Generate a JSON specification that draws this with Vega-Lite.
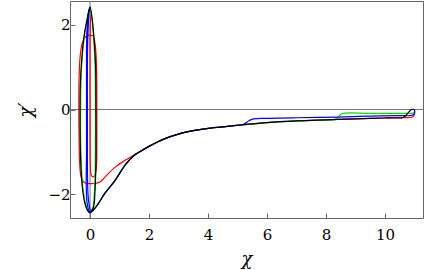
{
 "$schema": "https://vega.github.io/schema/vega-lite/v6.json",
 "width": 353, "height": 217,
 "autosize": "none",
 "padding": {"left": 70, "top": 1, "right": 13, "bottom": 52},
 "background": "white",
 "config": {
  "view": {"stroke": "#666", "strokeWidth": 1},
  "font": "DejaVu Serif",
  "axis": {"grid": false, "domain": false, "labelFont": "DejaVu Serif", "labelFontSize": 15, "labelColor": "black", "titleFont": "DejaVu Serif", "titleFontSize": 18, "titleFontWeight": "normal", "titleFontStyle": "italic", "titleColor": "black", "tickColor": "#666", "tickSize": -5, "tickWidth": 1}
 },
 "datasets": {
  "curves": [
   {"s":"red","i":0,"x":11.0,"y":0},{"s":"red","i":1,"x":11.0,"y":-0.12},{"s":"red","i":2,"x":10.95,"y":-0.17},{"s":"red","i":3,"x":10.8,"y":-0.19},
   {"s":"red","i":4,"x":10.6,"y":-0.19},{"s":"red","i":5,"x":10,"y":-0.2},{"s":"red","i":6,"x":9,"y":-0.22},{"s":"red","i":7,"x":8.4,"y":-0.235},{"s":"red","i":8,"x":8,"y":-0.245},{"s":"red","i":9,"x":7,"y":-0.27},{"s":"red","i":10,"x":6,"y":-0.31},{"s":"red","i":11,"x":5.2,"y":-0.36},{"s":"red","i":12,"x":4.5,"y":-0.41},{"s":"red","i":13,"x":3.95,"y":-0.45},{"s":"red","i":14,"x":3.5,"y":-0.5},{"s":"red","i":15,"x":3.05,"y":-0.57},{"s":"red","i":16,"x":2.5,"y":-0.7},{"s":"red","i":17,"x":2.0,"y":-0.87},{"s":"red","i":18,"x":1.7,"y":-0.99},{"s":"red","i":19,"x":1.5,"y":-1.07},
   {"s":"red","i":20,"x":1.19,"y":-1.2},{"s":"red","i":21,"x":0.85,"y":-1.36},{"s":"red","i":22,"x":0.51,"y":-1.59},{"s":"red","i":23,"x":0.34,"y":-1.71},{"s":"red","i":24,"x":0.2,"y":-1.74},{"s":"red","i":25,"x":0,"y":-1.75},{"s":"red","i":26,"x":-0.2,"y":-1.72},{"s":"red","i":27,"x":-0.3,"y":-1.6},{"s":"red","i":28,"x":-0.35,"y":-1.3},{"s":"red","i":29,"x":-0.37,"y":-0.8},{"s":"red","i":30,"x":-0.38,"y":0},{"s":"red","i":31,"x":-0.37,"y":0.8},{"s":"red","i":32,"x":-0.33,"y":1.3},{"s":"red","i":33,"x":-0.25,"y":1.6},{"s":"red","i":34,"x":-0.12,"y":1.74},{"s":"red","i":35,"x":0,"y":1.75},{"s":"red","i":36,"x":0.1,"y":1.74},{"s":"red","i":37,"x":0.17,"y":1.55},{"s":"red","i":38,"x":0.21,"y":1.2},{"s":"red","i":39,"x":0.23,"y":0.6},{"s":"red","i":40,"x":0.23,"y":0},{"s":"red","i":41,"x":0.23,"y":-0.8},{"s":"red","i":42,"x":0.22,"y":-1.3},{"s":"red","i":43,"x":0.18,"y":-1.52},{"s":"red","i":44,"x":0.11,"y":-1.59},{"s":"red","i":45,"x":0.04,"y":-1.55},{"s":"red","i":46,"x":0.01,"y":-1.3},{"s":"red","i":47,"x":0.0,"y":0},{"s":"red","i":48,"x":0.0,"y":1.5},{"s":"red","i":49,"x":0.01,"y":2.0},{"s":"red","i":50,"x":0.03,"y":2.25},

   {"s":"green","i":0,"x":11.0,"y":0},{"s":"green","i":1,"x":11.0,"y":-0.05},{"s":"green","i":2,"x":10.95,"y":-0.085},{"s":"green","i":3,"x":10.7,"y":-0.09},{"s":"green","i":4,"x":9.5,"y":-0.09},{"s":"green","i":5,"x":8.55,"y":-0.095},{"s":"green","i":6,"x":8.45,"y":-0.15},{"s":"green","i":7,"x":8.3,"y":-0.235},{"s":"green","i":8,"x":8,"y":-0.245},{"s":"green","i":9,"x":7,"y":-0.27},{"s":"green","i":10,"x":6,"y":-0.31},{"s":"green","i":11,"x":5.2,"y":-0.36},{"s":"green","i":12,"x":4.5,"y":-0.41},{"s":"green","i":13,"x":3.95,"y":-0.45},{"s":"green","i":14,"x":3.5,"y":-0.5},{"s":"green","i":15,"x":3.05,"y":-0.57},{"s":"green","i":16,"x":2.5,"y":-0.7},{"s":"green","i":17,"x":2.0,"y":-0.87},{"s":"green","i":18,"x":1.7,"y":-0.99},{"s":"green","i":19,"x":1.5,"y":-1.08},{"s":"green","i":20,"x":1.2,"y":-1.3},{"s":"green","i":21,"x":0.85,"y":-1.67},{"s":"green","i":22,"x":0.5,"y":-1.98},{"s":"green","i":23,"x":0.28,"y":-2.22},{"s":"green","i":24,"x":0.12,"y":-2.37},{"s":"green","i":25,"x":0.03,"y":-2.42},
   {"s":"green","i":26,"x":0.1,"y":-2.3},{"s":"green","i":27,"x":0.16,"y":-1.8},{"s":"green","i":28,"x":0.18,"y":-1.0},{"s":"green","i":29,"x":0.18,"y":0},{"s":"green","i":30,"x":0.17,"y":1.0},{"s":"green","i":31,"x":0.12,"y":1.7},{"s":"green","i":32,"x":0.05,"y":2.2},{"s":"green","i":33,"x":-0.01,"y":2.38},{"s":"green","i":34,"x":-0.08,"y":2.2},{"s":"green","i":35,"x":-0.2,"y":1.7},{"s":"green","i":36,"x":-0.29,"y":1.0},{"s":"green","i":37,"x":-0.32,"y":0},{"s":"green","i":38,"x":-0.31,"y":-1.0},{"s":"green","i":39,"x":-0.25,"y":-1.8},{"s":"green","i":40,"x":-0.14,"y":-2.25},{"s":"green","i":41,"x":-0.03,"y":-2.42},{"s":"green","i":42,"x":0.02,"y":-2.4},

   {"s":"blue","i":0,"x":11.0,"y":0},{"s":"blue","i":1,"x":11.0,"y":-0.1},{"s":"blue","i":2,"x":10.9,"y":-0.14},{"s":"blue","i":3,"x":10.5,"y":-0.145},{"s":"blue","i":4,"x":9.5,"y":-0.155},{"s":"blue","i":5,"x":8.4,"y":-0.18},{"s":"blue","i":6,"x":7,"y":-0.195},{"s":"blue","i":7,"x":6,"y":-0.21},{"s":"blue","i":8,"x":5.55,"y":-0.22},{"s":"blue","i":9,"x":5.4,"y":-0.26},{"s":"blue","i":10,"x":5.2,"y":-0.35},{"s":"blue","i":11,"x":5.0,"y":-0.37},{"s":"blue","i":12,"x":4.5,"y":-0.41},{"s":"blue","i":13,"x":3.95,"y":-0.45},{"s":"blue","i":14,"x":3.5,"y":-0.5},{"s":"blue","i":15,"x":3.05,"y":-0.57},{"s":"blue","i":16,"x":2.5,"y":-0.7},{"s":"blue","i":17,"x":2.0,"y":-0.87},{"s":"blue","i":18,"x":1.7,"y":-0.99},{"s":"blue","i":19,"x":1.5,"y":-1.08},{"s":"blue","i":20,"x":1.2,"y":-1.3},{"s":"blue","i":21,"x":0.85,"y":-1.67},{"s":"blue","i":22,"x":0.5,"y":-1.98},{"s":"blue","i":23,"x":0.28,"y":-2.22},{"s":"blue","i":24,"x":0.12,"y":-2.37},{"s":"blue","i":25,"x":0.03,"y":-2.42},
   {"s":"blue","i":26,"x":-0.02,"y":-2.3},{"s":"blue","i":27,"x":-0.07,"y":-2.0},{"s":"blue","i":28,"x":-0.09,"y":-1.0},{"s":"blue","i":29,"x":-0.09,"y":0},{"s":"blue","i":30,"x":-0.09,"y":1.0},{"s":"blue","i":31,"x":-0.07,"y":1.8},{"s":"blue","i":32,"x":-0.03,"y":2.3},{"s":"blue","i":33,"x":0.0,"y":2.42},{"s":"blue","i":34,"x":-0.05,"y":2.3},{"s":"blue","i":35,"x":-0.11,"y":1.8},{"s":"blue","i":36,"x":-0.12,"y":1.0},{"s":"blue","i":37,"x":-0.12,"y":0},{"s":"blue","i":38,"x":-0.12,"y":-1.0},{"s":"blue","i":39,"x":-0.13,"y":-1.8},{"s":"blue","i":40,"x":-0.1,"y":-2.2},{"s":"blue","i":41,"x":-0.02,"y":-2.42},{"s":"blue","i":42,"x":0.03,"y":-2.44},

   {"s":"black","i":0,"x":11.0,"y":0},{"s":"black","i":1,"x":10.9,"y":0},{"s":"black","i":2,"x":10.68,"y":-0.16},{"s":"black","i":3,"x":10.6,"y":-0.19},{"s":"black","i":4,"x":10,"y":-0.2},{"s":"black","i":5,"x":9,"y":-0.22},{"s":"black","i":6,"x":8.4,"y":-0.235},{"s":"black","i":7,"x":8,"y":-0.245},{"s":"black","i":8,"x":7,"y":-0.27},{"s":"black","i":9,"x":6,"y":-0.31},{"s":"black","i":10,"x":5.2,"y":-0.36},{"s":"black","i":11,"x":4.5,"y":-0.41},{"s":"black","i":12,"x":3.95,"y":-0.45},{"s":"black","i":13,"x":3.5,"y":-0.5},{"s":"black","i":14,"x":3.05,"y":-0.57},{"s":"black","i":15,"x":2.5,"y":-0.7},{"s":"black","i":16,"x":2.0,"y":-0.87},{"s":"black","i":17,"x":1.7,"y":-0.99},{"s":"black","i":18,"x":1.5,"y":-1.08},{"s":"black","i":19,"x":1.2,"y":-1.3},{"s":"black","i":20,"x":0.85,"y":-1.67},{"s":"black","i":21,"x":0.5,"y":-1.98},{"s":"black","i":22,"x":0.28,"y":-2.22},{"s":"black","i":23,"x":0.12,"y":-2.37},{"s":"black","i":24,"x":0.03,"y":-2.42},
   {"s":"black","i":25,"x":0.12,"y":-2.3},{"s":"black","i":26,"x":0.17,"y":-1.9},{"s":"black","i":27,"x":0.2,"y":-1.2},{"s":"black","i":28,"x":0.2,"y":0},{"s":"black","i":29,"x":0.19,"y":1.0},{"s":"black","i":30,"x":0.14,"y":1.62},{"s":"black","i":31,"x":0.07,"y":2.15},{"s":"black","i":32,"x":0.0,"y":2.41},{"s":"black","i":33,"x":-0.08,"y":2.2},{"s":"black","i":34,"x":-0.2,"y":1.75},{"s":"black","i":35,"x":-0.28,"y":1.2},{"s":"black","i":36,"x":-0.33,"y":0.6},{"s":"black","i":37,"x":-0.34,"y":0},{"s":"black","i":38,"x":-0.33,"y":-0.9},{"s":"black","i":39,"x":-0.28,"y":-1.7},{"s":"black","i":40,"x":-0.18,"y":-2.2},{"s":"black","i":41,"x":-0.07,"y":-2.4},{"s":"black","i":42,"x":0.0,"y":-2.44}
  ]
 },
 "layer": [
  {"data": {"values": [{}]}, "mark": {"type": "rule", "color": "#777", "strokeWidth": 1}, "encoding": {"y": {"datum": 0, "type": "quantitative"}}},
  {"data": {"values": [{}]}, "mark": {"type": "rule", "color": "#777", "strokeWidth": 1}, "encoding": {"x": {"datum": 0, "type": "quantitative"}}},
  {"data": {"name": "curves"}, "transform": [{"filter": "datum.s === 'red'"}], "mark": {"type": "line", "color": "#ff0000", "strokeWidth": 1.2, "interpolate": "catmull-rom"}, "encoding": {"x": {"field": "x", "type": "quantitative", "scale": {"domain": [-0.68, 11.29], "nice": false, "zero": false}, "axis": {"values": [0, 2, 4, 6, 8, 10], "title": "χ", "labelPadding": 14, "titlePadding": 8}}, "y": {"field": "y", "type": "quantitative", "scale": {"domain": [-2.56, 2.56], "nice": false, "zero": false}, "axis": {"values": [-2, 0, 2], "title": "χ′", "labelPadding": 5, "titlePadding": 12}}, "order": {"field": "i"}}},
  {"data": {"name": "curves"}, "transform": [{"filter": "datum.s === 'green'"}], "mark": {"type": "line", "color": "#00dd00", "strokeWidth": 1.2, "interpolate": "catmull-rom"}, "encoding": {"x": {"field": "x", "type": "quantitative"}, "y": {"field": "y", "type": "quantitative"}, "order": {"field": "i"}}},
  {"data": {"name": "curves"}, "transform": [{"filter": "datum.s === 'blue'"}], "mark": {"type": "line", "color": "#0000ff", "strokeWidth": 1.2, "interpolate": "catmull-rom"}, "encoding": {"x": {"field": "x", "type": "quantitative"}, "y": {"field": "y", "type": "quantitative"}, "order": {"field": "i"}}},
  {"data": {"name": "curves"}, "transform": [{"filter": "datum.s === 'black'"}], "mark": {"type": "line", "color": "#000000", "strokeWidth": 1.2, "interpolate": "catmull-rom"}, "encoding": {"x": {"field": "x", "type": "quantitative"}, "y": {"field": "y", "type": "quantitative"}, "order": {"field": "i"}}}
 ]
}
